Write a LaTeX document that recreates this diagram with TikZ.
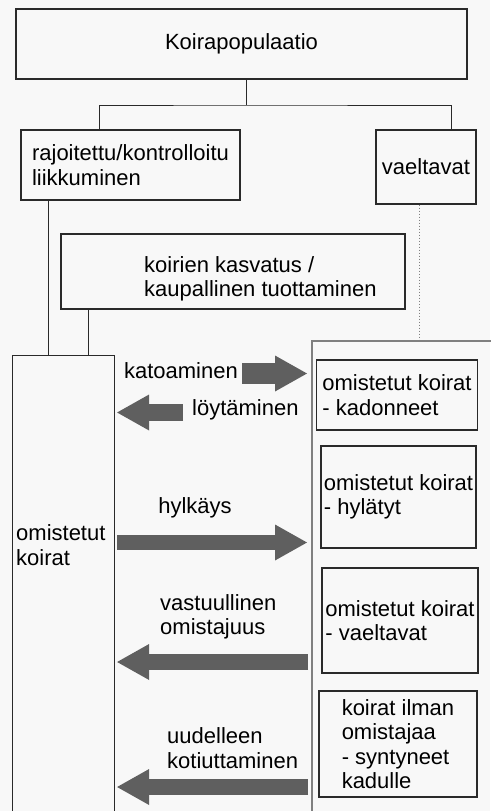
\documentclass[tikz,border=0pt]{standalone}
\usepackage{fontspec}
\setmainfont{Liberation Sans}
\usetikzlibrary{arrows.meta}

\definecolor{arrowgray}{HTML}{5F5F5F}
\definecolor{boxline}{HTML}{2A2A2A}
\definecolor{bggray}{HTML}{F8F8F8}

\begin{document}
\begin{tikzpicture}[x=1pt, y=-1pt,
    every node/.style={font=\fontsize{22}{24.5}\selectfont, align=left},
    box/.style={draw=boxline, line width=1.1pt, inner sep=1pt},
    link/.style={draw=boxline, line width=1pt},
    bigarrow/.style={draw=arrowgray, line width=16pt, -{Triangle[length=32pt, width=36pt, line width=0pt]}}]
    \useasboundingbox (0,0) rectangle (490,811);
    \fill[bggray] (0,0) rectangle (490,811);

    \node[box, minimum width=451pt, minimum height=70pt] (top) at (241.5,44) {Koirapopulaatio};
    \node[box, minimum width=219pt, minimum height=70pt] (restr) at (130.5,165) {rajoitettu/kontrolloitu\\liikkuminen};
    \node[box, minimum width=100pt, minimum height=74pt] (roam) at (426,167) {vaeltavat};
    \node[box, minimum width=344pt, minimum height=75pt] (breed) at (233,271.5) {};
    \node[anchor=west, inner sep=0pt] (breedtxt) at (144,279) {koirien kasvatus /\\kaupallinen tuottaminen};

    % owned dogs on the left, stray side on the right
    \node[box, anchor=north west, minimum width=102pt, minimum height=500pt] (owned) at (12,355) {};
    \node[anchor=west, inner sep=0pt] (ownedtxt) at (16,545) {omistetut\\koirat};
    \node[draw=gray, line width=1.5pt, anchor=north west, minimum width=250pt, minimum height=520pt] (stray) at (311,340) {};

    \node[box, minimum width=161pt, minimum height=70pt] (lost) at (397,395) {omistetut koirat\\- kadonneet};
    \node[box, minimum width=155pt, minimum height=102pt] (aband) at (398.5,497) {omistetut koirat\\- hylätyt};
    \node[box, minimum width=156pt, minimum height=105pt] (vaelt) at (400,620.5) {omistetut koirat\\- vaeltavat};
    \node[box, minimum width=158pt, minimum height=106pt] (street) at (398,744) {koirat ilman\\omistajaa\\- syntyneet\\kadulle};

    \coordinate (split) at (246,105);
    \coordinate (restrdrop) at (99,0);
    \coordinate (roamdrop) at (451,0);
    \coordinate (ownleft) at (48,0);
    \coordinate (ownright) at (88,0);
    \coordinate (roamdot) at (419,0);
    \draw[link] (top.south -| split) -- (split);
    \draw[link] (restr.north -| restrdrop) |- (split) -| (roam.north -| roamdrop);
    \draw[link] (restr.south -| ownleft) -- (owned.north -| ownleft);
    \draw[link] (breed.south -| ownright) -- (owned.north -| ownright);
    \draw[gray, line width=1pt, dotted] (roam.south -| roamdot) -- (stray.north -| roamdot);

    % flows between the two sides
    \coordinate (rowlose) at (0,373.5);
    \coordinate (rowfind) at (0,412.5);
    \coordinate (rowaband) at (0,542.5);
    \coordinate (rowduty) at (0,662);
    \coordinate (rowhome) at (0,787);
    \node[anchor=base east, inner sep=0pt] (lose) at (238,378) {katoaminen};
    \node[anchor=base west, inner sep=0pt] (find) at (192,415) {löytäminen};
    \node[anchor=base, inner sep=0pt] (abandlbl) at (195,513) {hylkäys};
    \node[anchor=west, inner sep=0pt] (duty) at (160,617) {vastuullinen\\omistajuus};
    \node[anchor=west, inner sep=0pt] (rehome) at (167,748) {uudelleen\\kotiuttaminen};

    \draw[bigarrow, line width=21pt, shorten <=4pt, shorten >=4pt] (lose.east |- rowlose) -- (stray.west |- rowlose);
    \draw[bigarrow, line width=17pt, shorten <=9pt, shorten >=2pt] (find.west |- rowfind) -- (owned.east |- rowfind);
    \draw[bigarrow, line width=15pt, shorten <=2pt, shorten >=4pt] (owned.east |- rowaband) -- (stray.west |- rowaband);
    \draw[bigarrow, shorten <=3pt, shorten >=2pt] (stray.west |- rowduty) -- (owned.east |- rowduty);
    \draw[bigarrow, shorten <=3pt, shorten >=2pt] (stray.west |- rowhome) -- (owned.east |- rowhome);
\end{tikzpicture}
\end{document}
